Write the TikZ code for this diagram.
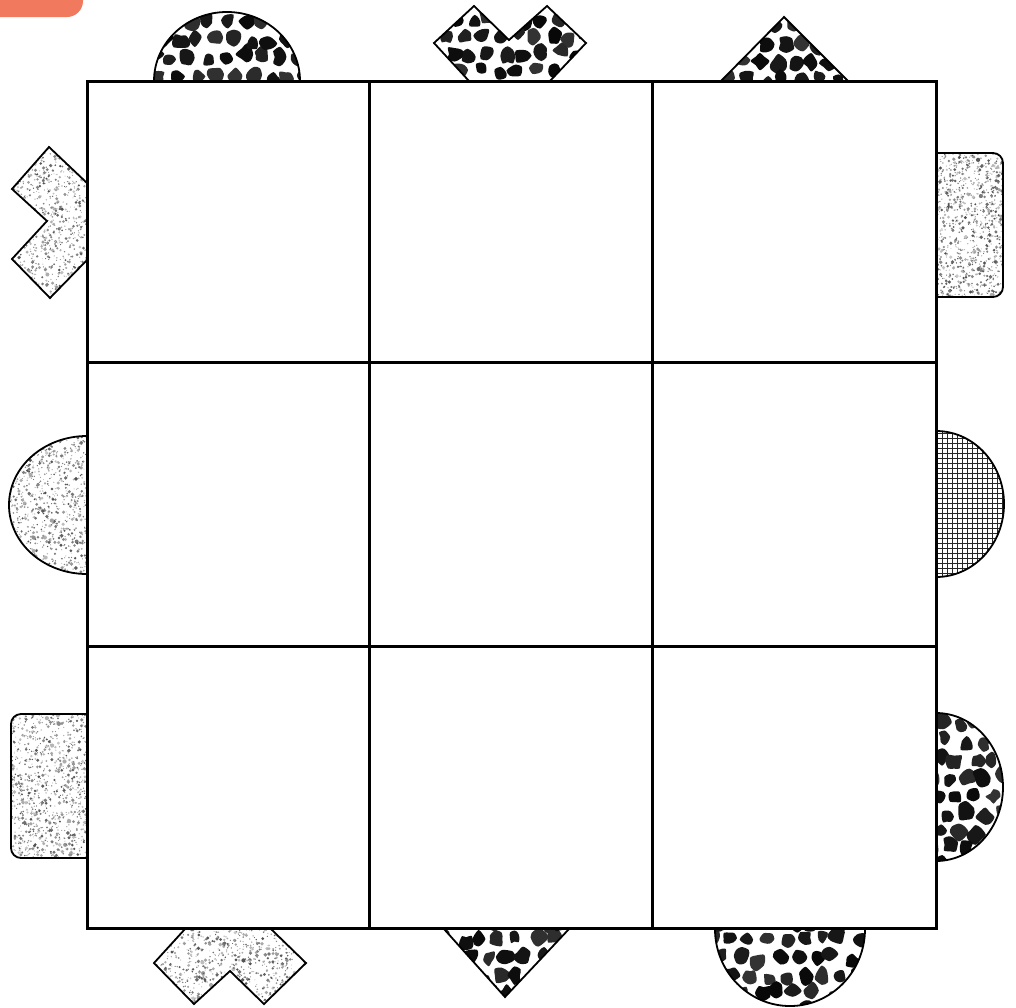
\documentclass[tikz,border=0pt]{standalone}
\definecolor{tabred}{RGB}{241,122,94}
\tikzset{
  gridline/.style={line width=3pt, line cap=rect},
  taboutline/.style={line width=1.8pt, line join=miter},
}
\pgfmathsetseed{4242}
% leopard spots inside box x0 y0 x1 y1
\newcommand{\leopardfill}[4]{%
  \pgfmathtruncatemacro\nci{(#3-#1)/18+1}%
  \pgfmathtruncatemacro\ncj{(#4-#2)/18+1}%
  \foreach \i in {0,...,\nci}{\foreach \j in {0,...,\ncj}{%
    \pgfmathsetmacro\ox{#1+18*\i+9*mod(\j,2)+4*rand}%
    \pgfmathsetmacro\oy{#2+18*\j+4*rand}%
    \pgfmathsetmacro\rr{5.8+2.8*rnd}%
    \pgfmathtruncatemacro\gg{80+18*rnd}%
    \fill[black!\gg] plot[smooth cycle, samples at={0,45,...,315}, variable=\t]
      ({\ox+\rr*(1+0.32*rand)*cos(\t)},{\oy+\rr*(1+0.32*rand)*sin(\t)});
  }}}
% speckles inside box x0 y0 x1 y1, n dots
\newcommand{\specklefill}[5]{%
  \foreach \k in {1,...,#5}{%
    \pgfmathsetmacro\px{#1+(#3-#1)*rnd}%
    \pgfmathsetmacro\py{#2+(#4-#2)*rnd}%
    \pgfmathsetmacro\rr{0.5+1.7*rnd*rnd}%
    \pgfmathtruncatemacro\gg{22+48*rnd}%
    \fill[black!\gg] (\px,\py) circle[radius=\rr];
  }}
\newcommand{\hatchfill}[4]{%
  \foreach \k in {0,...,32}{%
    \draw[line width=0.75pt, black!85] (#1+5*\k,#2) -- (#1+5*\k,#4);
    \draw[line width=0.75pt, black!85] (#1,#2+5*\k) -- (#3,#2+5*\k);
  }}
\newcommand{\tabshape}[2]{%
  \begin{scope}\clip #1; #2 \end{scope}
  \draw[taboutline] #1;}
\begin{document}
\begin{tikzpicture}[x=1pt,y=-1pt]
\useasboundingbox (0,0) rectangle (1016,1007);
\fill[white] (0,0) rectangle (1016,1007);
% orange corner tab
\fill[tabred, rounded corners=16pt] (-30,-30) rectangle (83,17);

% ---- top tabs
\tabshape{(154,81) arc[start angle=180, end angle=360, x radius=73, y radius=69]}
  {\leopardfill{144}{4}{310}{90}}
\tabshape{(469,81) -- (434,43) -- (474,6) -- (509,40) -- (547,6) -- (586,43) -- (550,81)}
  {\leopardfill{426}{0}{596}{90}}
\tabshape{(721,81) -- (784,17) -- (848,81)}
  {\leopardfill{712}{8}{858}{90}}

% ---- left tabs
\tabshape{(87,183) -- (49,147) -- (12,189) -- (47,221) -- (12,259) -- (50,298) -- (87,260)}
  {\specklefill{10}{145}{88}{300}{900}}
\tabshape{(87,436) arc[start angle=270, end angle=90, x radius=78, y radius=69]}
  {\specklefill{8}{434}{88}{576}{900}}
\tabshape{(87,714) [rounded corners=10pt] -- (11,714) -- (11,858) -- (87,858)}
  {\specklefill{10}{712}{88}{860}{1000}}

% ---- right tabs
\tabshape{(936,153) [rounded corners=10pt] -- (1003,153) -- (1003,297) -- (936,297)}
  {\specklefill{935}{151}{1005}{299}{1000}}
\tabshape{(936,431) arc[start angle=-90, end angle=90, x radius=68, y radius=73]}
  {\hatchfill{937}{428}{1010}{580}}
\tabshape{(936,713) arc[start angle=-90, end angle=90, x radius=67, y radius=74]}
  {\leopardfill{930}{705}{1010}{868}}

% ---- bottom tabs
\tabshape{(185,929) -- (154,963) -- (194,1004) -- (230,971) -- (264,1004) -- (306,963) -- (271,929)}
  {\specklefill{152}{927}{308}{1006}{900}}
\tabshape{(444,929) -- (505,997) -- (569,929)}
  {\leopardfill{436}{922}{578}{1005}}
\tabshape{(715,929) arc[start angle=180, end angle=0, x radius=75, y radius=77]}
  {\leopardfill{706}{922}{874}{1015}}

% ---- grid
\coordinate (tl) at (87,81);
\coordinate (br) at (936,928);
\draw[gridline] (tl) rectangle (br);
\draw[gridline] (369,81) -- (369,928);
\draw[gridline] (652,81) -- (652,928);
\draw[gridline] (87,362) -- (936,362);
\draw[gridline] (87,646) -- (936,646);
\end{tikzpicture}
\end{document}
